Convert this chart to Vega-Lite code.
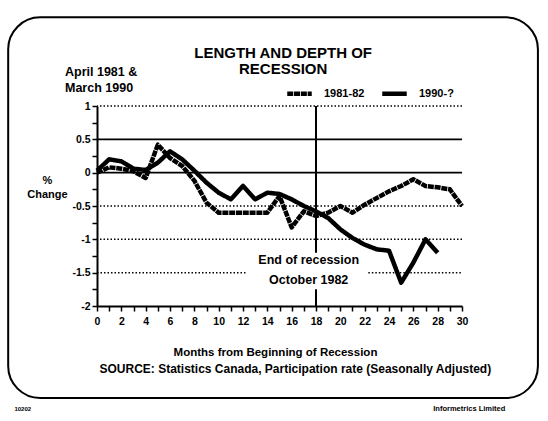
{
  "$schema": "https://vega.github.io/schema/vega-lite/v6.json",
  "width": 365,
  "height": 200,
  "autosize": {"type": "none"},
  "padding": {"left": 97, "top": 106, "right": 86, "bottom": 115},
  "background": "white",
  "resolve": {"axis": {"x": "independent", "y": "independent"}},
  "config": {
    "view": {"stroke": null},
    "font": "Liberation Sans",
    "text": {"font": "Liberation Sans", "fontWeight": "bold", "color": "black"},
    "axis": {
      "grid": false,
      "labelOverlap": false,
      "labelFlush": false,
      "domainColor": "black", "domainWidth": 2,
      "tickColor": "black", "tickWidth": 1.5, "tickSize": 5,
      "labelFont": "Liberation Sans", "labelFontWeight": "bold", "labelFontSize": 10.5, "labelColor": "black",
      "titleFont": "Liberation Sans", "titleFontWeight": "bold", "titleColor": "black"
    },
    "axisX": {"labelPadding": 5, "titleFontSize": 11.5},
    "axisY": {"labelPadding": 2, "titleFontSize": 11}
  },
  "datasets": {
    "series": [
      {"month": 0, "value": 0.0, "series": "1981-82"},
      {"month": 1, "value": 0.08, "series": "1981-82"},
      {"month": 2, "value": 0.06, "series": "1981-82"},
      {"month": 3, "value": 0.02, "series": "1981-82"},
      {"month": 4, "value": -0.08, "series": "1981-82"},
      {"month": 5, "value": 0.42, "series": "1981-82"},
      {"month": 6, "value": 0.22, "series": "1981-82"},
      {"month": 7, "value": 0.1, "series": "1981-82"},
      {"month": 8, "value": -0.12, "series": "1981-82"},
      {"month": 9, "value": -0.45, "series": "1981-82"},
      {"month": 10, "value": -0.6, "series": "1981-82"},
      {"month": 11, "value": -0.6, "series": "1981-82"},
      {"month": 12, "value": -0.6, "series": "1981-82"},
      {"month": 13, "value": -0.6, "series": "1981-82"},
      {"month": 14, "value": -0.6, "series": "1981-82"},
      {"month": 15, "value": -0.35, "series": "1981-82"},
      {"month": 16, "value": -0.82, "series": "1981-82"},
      {"month": 17, "value": -0.58, "series": "1981-82"},
      {"month": 18, "value": -0.65, "series": "1981-82"},
      {"month": 19, "value": -0.6, "series": "1981-82"},
      {"month": 20, "value": -0.5, "series": "1981-82"},
      {"month": 21, "value": -0.6, "series": "1981-82"},
      {"month": 22, "value": -0.48, "series": "1981-82"},
      {"month": 23, "value": -0.38, "series": "1981-82"},
      {"month": 24, "value": -0.28, "series": "1981-82"},
      {"month": 25, "value": -0.2, "series": "1981-82"},
      {"month": 26, "value": -0.1, "series": "1981-82"},
      {"month": 27, "value": -0.2, "series": "1981-82"},
      {"month": 28, "value": -0.22, "series": "1981-82"},
      {"month": 29, "value": -0.25, "series": "1981-82"},
      {"month": 30, "value": -0.5, "series": "1981-82"},
      {"month": 0, "value": 0.03, "series": "1990-?"},
      {"month": 1, "value": 0.2, "series": "1990-?"},
      {"month": 2, "value": 0.17, "series": "1990-?"},
      {"month": 3, "value": 0.06, "series": "1990-?"},
      {"month": 4, "value": 0.04, "series": "1990-?"},
      {"month": 5, "value": 0.15, "series": "1990-?"},
      {"month": 6, "value": 0.32, "series": "1990-?"},
      {"month": 7, "value": 0.2, "series": "1990-?"},
      {"month": 8, "value": 0.03, "series": "1990-?"},
      {"month": 9, "value": -0.15, "series": "1990-?"},
      {"month": 10, "value": -0.3, "series": "1990-?"},
      {"month": 11, "value": -0.4, "series": "1990-?"},
      {"month": 12, "value": -0.2, "series": "1990-?"},
      {"month": 13, "value": -0.4, "series": "1990-?"},
      {"month": 14, "value": -0.3, "series": "1990-?"},
      {"month": 15, "value": -0.32, "series": "1990-?"},
      {"month": 16, "value": -0.4, "series": "1990-?"},
      {"month": 17, "value": -0.5, "series": "1990-?"},
      {"month": 18, "value": -0.58, "series": "1990-?"},
      {"month": 19, "value": -0.68, "series": "1990-?"},
      {"month": 20, "value": -0.85, "series": "1990-?"},
      {"month": 21, "value": -0.98, "series": "1990-?"},
      {"month": 22, "value": -1.08, "series": "1990-?"},
      {"month": 23, "value": -1.15, "series": "1990-?"},
      {"month": 24, "value": -1.17, "series": "1990-?"},
      {"month": 25, "value": -1.65, "series": "1990-?"},
      {"month": 26, "value": -1.35, "series": "1990-?"},
      {"month": 27, "value": -1.0, "series": "1990-?"},
      {"month": 28, "value": -1.2, "series": "1990-?"}
    ],
    "solidGrid": [{"level": 0.5}, {"level": 0}],
    "dottedGrid": [{"level": 1}, {"level": -0.5}, {"level": -1}],
    "brokenGrid": [
      {"level": -1.5, "from": 0, "to": 12.2},
      {"level": -1.5, "from": 22.3, "to": 30}
    ],
    "endLine": [
      {"month": 18, "top": 1, "bottom": -1.2},
      {"month": 18, "top": -1.75, "bottom": -2}
    ]
  },
  "layer": [
    {
      "data": {"name": "series"},
      "mark": {"type": "line", "color": "black", "strokeWidth": 4.5, "strokeJoin": "round"},
      "encoding": {
        "x": {
          "field": "month", "type": "quantitative",
          "scale": {"domain": [0, 30], "nice": false, "zero": false},
          "axis": {
            "values": [0,1,2,3,4,5,6,7,8,9,10,11,12,13,14,15,16,17,18,19,20,21,22,23,24,25,26,27,28,29,30],
            "labelExpr": "datum.value % 2 == 0 ? datum.label : ''",
            "labelOverlap": false,
            "title": "Months  from Beginning of Recession",
            "titleX": 178, "titleY": 46, "titleBaseline": "middle", "titleAlign": "center"
          }
        },
        "y": {
          "field": "value", "type": "quantitative",
          "scale": {"domain": [-2, 1], "nice": false, "zero": false},
          "axis": {
            "values": [-2,-1.75,-1.5,-1.25,-1,-0.75,-0.5,-0.25,0,0.25,0.5,0.75,1],
            "labelExpr": "datum.value * 2 == round(datum.value * 2) ? '' + datum.value : ''",
            "labelOverlap": false,
            "title": ["%", "Change"],
            "titleAngle": 0, "titleX": -50, "titleY": 74, "titleBaseline": "middle", "titleAlign": "center", "titleLineHeight": 14
          }
        },
        "strokeDash": {
          "field": "series", "type": "nominal",
          "scale": {"domain": ["1981-82", "1990-?"], "range": [[6, 0.8], [1, 0]]},
          "legend": {
            "orient": "none", "legendX": 188, "legendY": -27, "direction": "horizontal", "title": null,
            "symbolType": "stroke", "symbolStrokeWidth": 4.5, "symbolSize": 600, "symbolStrokeColor": "black",
            "labelFont": "Liberation Sans", "labelFontWeight": "bold", "labelFontSize": 11, "labelColor": "black",
            "labelOffset": 10, "columnPadding": 8
          }
        }
      }
    },
    {
      "data": {"values": [{}]},
      "mark": {"type": "rect", "filled": false, "stroke": "black", "strokeWidth": 2, "cornerRadius": 32, "clip": false},
      "encoding": {
        "x": {"datum": -7.3, "type": "quantitative", "scale": {"domain": [0, 30], "nice": false, "zero": false}, "axis": null},
        "x2": {"datum": 36.24},
        "y": {"datum": 2.33, "type": "quantitative", "scale": {"domain": [-2, 1], "nice": false, "zero": false}, "axis": null},
        "y2": {"datum": -3.38}
      }
    },
    {
      "data": {"name": "solidGrid"},
      "mark": {"type": "rule", "color": "black", "strokeWidth": 1.8},
      "encoding": {
        "y": {"field": "level", "type": "quantitative", "scale": {"domain": [-2, 1], "nice": false, "zero": false}, "axis": null}
      }
    },
    {
      "data": {"name": "dottedGrid"},
      "mark": {"type": "rule", "color": "black", "strokeWidth": 1.5, "strokeDash": [1.5, 2]},
      "encoding": {
        "y": {"field": "level", "type": "quantitative", "scale": {"domain": [-2, 1], "nice": false, "zero": false}, "axis": null}
      }
    },
    {
      "data": {"name": "brokenGrid"},
      "mark": {"type": "rule", "color": "black", "strokeWidth": 1.5, "strokeDash": [1.5, 2]},
      "encoding": {
        "x": {"field": "from", "type": "quantitative", "scale": {"domain": [0, 30], "nice": false, "zero": false}, "axis": null},
        "x2": {"field": "to"},
        "y": {"field": "level", "type": "quantitative", "scale": {"domain": [-2, 1], "nice": false, "zero": false}, "axis": null}
      }
    },
    {
      "data": {"name": "endLine"},
      "mark": {"type": "rule", "color": "black", "strokeWidth": 2},
      "encoding": {
        "x": {"field": "month", "type": "quantitative", "scale": {"domain": [0, 30], "nice": false, "zero": false}, "axis": null},
        "y": {"field": "top", "type": "quantitative", "scale": {"domain": [-2, 1], "nice": false, "zero": false}, "axis": null},
        "y2": {"field": "bottom"}
      }
    },
    {
      "data": {"values": [{}]},
      "mark": {"type": "text", "text": ["LENGTH AND DEPTH OF", "RECESSION"], "fontSize": 15, "lineHeight": 16, "align": "center", "baseline": "middle"},
      "encoding": {
        "x": {"datum": 15.3, "type": "quantitative", "scale": {"domain": [0, 30], "nice": false, "zero": false}, "axis": null},
        "y": {"datum": 1.8, "type": "quantitative", "scale": {"domain": [-2, 1], "nice": false, "zero": false}, "axis": null}
      }
    },
    {
      "data": {"values": [{}]},
      "mark": {"type": "text", "text": ["April 1981 &", "March 1990"], "fontSize": 12.5, "lineHeight": 16.5, "align": "left", "baseline": "middle"},
      "encoding": {
        "x": {"datum": -2.63, "type": "quantitative", "scale": {"domain": [0, 30], "nice": false, "zero": false}, "axis": null},
        "y": {"datum": 1.515, "type": "quantitative", "scale": {"domain": [-2, 1], "nice": false, "zero": false}, "axis": null}
      }
    },
    {
      "data": {"values": [{}]},
      "mark": {"type": "text", "text": ["End of recession", "October 1982"], "fontSize": 12.5, "lineHeight": 20, "align": "center", "baseline": "middle"},
      "encoding": {
        "x": {"datum": 17.4, "type": "quantitative", "scale": {"domain": [0, 30], "nice": false, "zero": false}, "axis": null},
        "y": {"datum": -1.31, "type": "quantitative", "scale": {"domain": [-2, 1], "nice": false, "zero": false}, "axis": null}
      }
    },
    {
      "data": {"values": [{}]},
      "mark": {"type": "text", "text": "SOURCE: Statistics Canada, Participation rate (Seasonally Adjusted)", "fontSize": 12, "align": "center", "baseline": "middle"},
      "encoding": {
        "x": {"datum": 16.3, "type": "quantitative", "scale": {"domain": [0, 30], "nice": false, "zero": false}, "axis": null},
        "y": {"datum": -2.94, "type": "quantitative", "scale": {"domain": [-2, 1], "nice": false, "zero": false}, "axis": null}
      }
    },
    {
      "data": {"values": [{}]},
      "mark": {"type": "text", "text": "Informetrics Limited", "fontSize": 7.5, "align": "center", "baseline": "middle"},
      "encoding": {
        "x": {"datum": 30.6, "type": "quantitative", "scale": {"domain": [0, 30], "nice": false, "zero": false}, "axis": null},
        "y": {"datum": -3.55, "type": "quantitative", "scale": {"domain": [-2, 1], "nice": false, "zero": false}, "axis": null}
      }
    },
    {
      "data": {"values": [{}]},
      "mark": {"type": "text", "text": "10202", "fontSize": 6, "align": "center", "baseline": "middle"},
      "encoding": {
        "x": {"datum": -6.1, "type": "quantitative", "scale": {"domain": [0, 30], "nice": false, "zero": false}, "axis": null},
        "y": {"datum": -3.55, "type": "quantitative", "scale": {"domain": [-2, 1], "nice": false, "zero": false}, "axis": null}
      }
    }
  ]
}
